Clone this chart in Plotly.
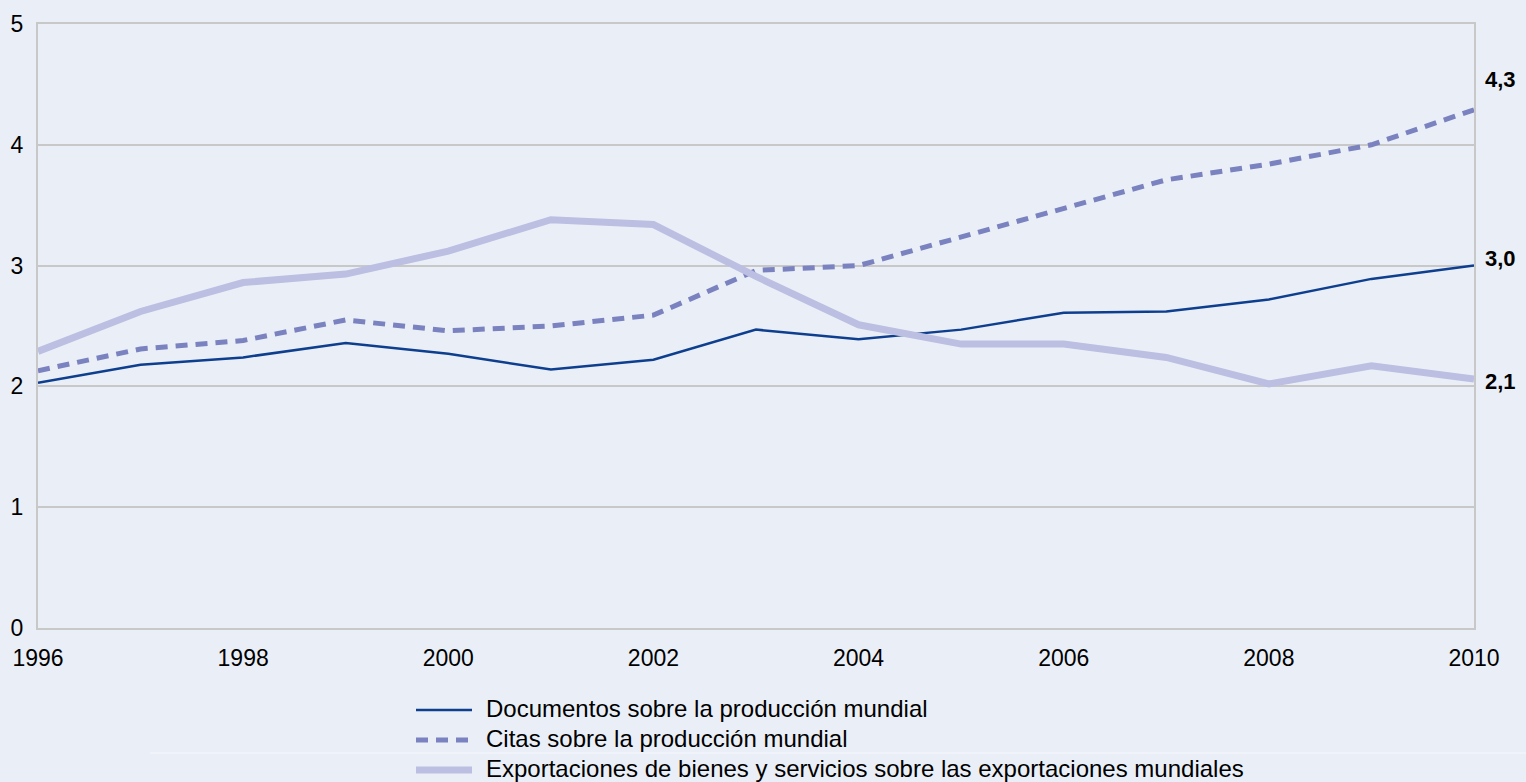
import plotly.graph_objects as go

years = list(range(1996, 2011))
documentos = [2.03, 2.18, 2.24, 2.36, 2.27, 2.14, 2.22, 2.47, 2.39, 2.47, 2.61, 2.62, 2.72, 2.89, 3.00]
citas = [2.13, 2.31, 2.38, 2.55, 2.46, 2.50, 2.59, 2.96, 3.00, 3.24, 3.47, 3.71, 3.84, 4.00, 4.29]
exportaciones = [2.29, 2.62, 2.86, 2.93, 3.12, 3.38, 3.34, 2.91, 2.51, 2.35, 2.35, 2.24, 2.02, 2.17, 2.06]

names = [
    "Documentos sobre la producción mundial",
    "Citas sobre la producción mundial",
    "Exportaciones de bienes y servicios sobre las exportaciones mundiales",
]

BG = "#eaeff7"
GRID = "#c8c8c8"
FONT = "Arial, Liberation Sans, sans-serif"

styles = [
    dict(color="#0e3f8f", width=2.5),
    dict(color="#7a82bf", width=5, dash="12px,8px"),
    dict(color="#bcbfe1", width=7),
]

fig = go.Figure()
for series, name, st in zip([documentos, citas, exportaciones], names, styles):
    fig.add_trace(go.Scatter(x=years, y=series, name=name, mode="lines", line=st,
                             showlegend=False))

# end-of-line value labels
for series, shift in [(citas, 30), (documentos, 7), (exportaciones, -2)]:
    fig.add_annotation(x=years[-1], y=series[-1], text=f"<b>{series[-1]:.1f}</b>".replace(".", ","),
                       xanchor="left", yanchor="middle", showarrow=False, xshift=9, yshift=shift,
                       font=dict(size=22, color="black", family=FONT))

# paper helpers: pixel -> paper fraction
def px_x(p):
    return (p - 38) / 1436

def px_y(p):
    return (782 - p - 154) / 604

# legend drawn by hand below the plot
for i, (name, st) in enumerate(zip(names, styles)):
    row = 710 + 30 * i
    fig.add_shape(type="line", xref="paper", yref="paper", x0=px_x(416), x1=px_x(472),
                  y0=px_y(row), y1=px_y(row), line=st)
    fig.add_annotation(xref="paper", yref="paper", x=px_x(484), y=px_y(row - 2),
                       text=name, xanchor="left", yanchor="middle", showarrow=False,
                       font=dict(size=24, color="black", family=FONT))

# faint light rule seen behind the legend
fig.add_shape(type="line", xref="paper", yref="paper", x0=px_x(150), x1=px_x(1526),
              y0=px_y(753), y1=px_y(753), line=dict(color="white", width=1), opacity=0.6,
              layer="below")

fig.update_layout(
    width=1526, height=782,
    paper_bgcolor=BG, plot_bgcolor=BG,
    font=dict(family=FONT, size=23, color="black"),
    margin=dict(l=38, r=52, t=24, b=154, autoexpand=False),
)
fig.update_xaxes(range=[1996, 2010], dtick=2, showgrid=False, zeroline=False,
                 showline=True, linecolor=GRID, linewidth=2, mirror=True,
                 ticks="outside", ticklen=8, tickcolor="rgba(0,0,0,0)")
fig.update_yaxes(range=[0, 5], dtick=1, showgrid=True, gridcolor=GRID, gridwidth=2,
                 zeroline=False, showline=True, linecolor=GRID, linewidth=2, mirror=True,
                 ticks="outside", ticklen=8, tickcolor="rgba(0,0,0,0)")

fig.write_html("out.html", config={"displayModeBar": False},
               post_script="document.body.style.margin='0';")
